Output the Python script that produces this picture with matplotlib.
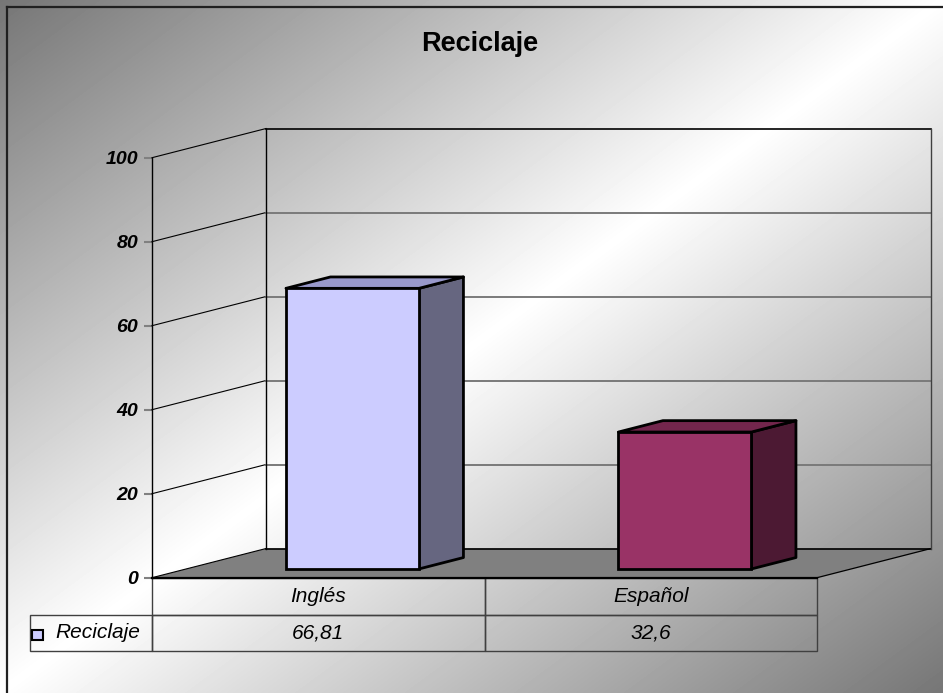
# coding=utf-8
"""Excel-style 3D bar chart 'Reciclaje' with a data table underneath."""

import matplotlib
matplotlib.use("Agg")
import matplotlib.pyplot as plt
import numpy as np
from matplotlib.patches import Polygon, Rectangle
from matplotlib.table import Table

plt.rcParams["font.family"] = ["Liberation Sans", "DejaVu Sans"]

# Data:
title = "Reciclaje"
series_name = "Reciclaje"
categories = ["Inglés", "Español"]
values = [66.81, 32.6]
value_labels = ["66,81", "32,6"]
y_ticks = [0, 20, 40, 60, 80, 100]

# Colours (front, side, top) per bar:
front_colours = ["#CCCCFF", "#993366"]
side_colours = ["#666680", "#4C1933"]
top_colours = ["#9999CC", "#73264D"]

# 3D look, in data units of the front plane:
DX, DY = 0.343, 6.95      # floor depth vector
F0, F1 = 0.30, 0.69       # bar depth span (fraction of floor depth)
BAR_W = 0.4

W, H = 943, 693
AX_W, AX_H = 665, 420     # front plane size in pixels
fig = plt.figure(figsize=(W / 100, H / 100), dpi=100)

# Background: diagonal mirrored grey gradient plus a frame on top/left.
bg = fig.add_axes([0, 0, 1, 1], zorder=-10)
xx, yy = np.meshgrid(np.linspace(0, 1, W), np.linspace(0, 1, H))
u = (xx + yy) / 2
grey = 118 + (255 - 118) * (1 - np.abs(2 * u - 1))
bg.imshow(grey, cmap="gray", vmin=0, vmax=255, extent=(0, W, H, 0), aspect="auto")
bg.plot([7, W], [6.5, 6.5], color="#202020", lw=1.6)
bg.plot([7, 7], [6.5, H], color="#202020", lw=1.6)
bg.set_xlim(0, W)
bg.set_ylim(H, 0)
bg.axis("off")

fig.text(480 / W, 1 - 44 / H, title, ha="center", va="center",
         fontsize=19.5, fontweight="bold")

# Front plane axes:
ax = fig.add_axes([152 / W, (H - 577.7) / H, AX_W / W, AX_H / H])
ax.set_xlim(-0.5, len(categories) - 0.5)
ax.set_ylim(0, 100)
ax.patch.set_visible(False)
for side in ("top", "right", "bottom"):
    ax.spines[side].set_visible(False)
ax.spines["left"].set_color("black")
ax.spines["left"].set_linewidth(1.0)
ax.set_xticks([])
ax.set_yticks(y_ticks)
ax.set_yticklabels([str(t) for t in y_ticks], fontsize=14,
                   fontweight="bold", fontstyle="italic")
ax.tick_params(axis="y", direction="out", length=6, width=1.5,
               color="#808080", pad=4)

x0, x1 = -0.5, len(categories) - 0.5
ymax = y_ticks[-1]

# Floor:
floor = Polygon([(x0, 0), (x1, 0), (x1 + DX, DY), (x0 + DX, DY)], closed=True,
                facecolor="#808080", edgecolor="none", clip_on=False, zorder=1)
ax.add_patch(floor)
ax.plot([x0 + DX, x1 + DX], [DY, DY], color="black", lw=1.2, clip_on=False, zorder=2)
ax.plot([x1, x1 + DX], [0, DY], color="black", lw=0.9, clip_on=False, zorder=2)
ax.plot([x0, x1], [0, 0], color="black", lw=1.6, clip_on=False, zorder=2)

# Walls and gridlines:
for t in y_ticks[1:]:
    ax.plot([x0, x0 + DX], [t, t + DY], color="black", lw=0.8, clip_on=False, zorder=2)
    grid_colour = "black" if t == ymax else "#7a7a7a"
    ax.plot([x0 + DX, x1 + DX], [t + DY, t + DY], color=grid_colour,
            lw=1.2 if t == ymax else 1.4, clip_on=False, zorder=2)
ax.plot([x0, x0 + DX], [0, DY], color="black", lw=0.8, clip_on=False, zorder=2)
ax.plot([x0 + DX, x0 + DX], [DY, ymax + DY], color="black", lw=1.0, clip_on=False, zorder=2)
ax.plot([x1 + DX, x1 + DX], [DY, ymax + DY], color="#404040", lw=1.0, clip_on=False, zorder=2)

# Bars:
positions = np.arange(len(categories))
front_x = positions + F0 * DX
base = F0 * DY
ddx, ddy = (F1 - F0) * DX, (F1 - F0) * DY
for xc, v, side_c, top_c in zip(front_x, values, side_colours, top_colours):
    xl, xr, top = xc - BAR_W / 2, xc + BAR_W / 2, base + v
    side_face = Polygon([(xr, base), (xr + ddx, base + ddy), (xr + ddx, top + ddy), (xr, top)],
                        closed=True, facecolor=side_c, edgecolor="black", lw=2,
                        joinstyle="round", clip_on=False, zorder=3)
    top_face = Polygon([(xl, top), (xl + ddx, top + ddy), (xr + ddx, top + ddy), (xr, top)],
                       closed=True, facecolor=top_c, edgecolor="black", lw=2,
                       joinstyle="round", clip_on=False, zorder=3)
    ax.add_patch(side_face)
    ax.add_patch(top_face)
ax.bar(front_x, values, width=BAR_W, bottom=base, color=front_colours,
       edgecolor="black", linewidth=2, zorder=4, clip_on=False)

# Data table below the plot (sizes in axes fractions; bbox covers the data columns):
label_w = 122 / AX_W
col_w = 1 / len(categories)
row_h = [37.3 / AX_H, 35.5 / AX_H]
table = Table(ax, bbox=[0, -sum(row_h), 1, sum(row_h)])
for j, cat in enumerate(categories):
    table.add_cell(0, j, width=col_w, height=row_h[0], text=cat, loc="center",
                   facecolor="none", edgecolor="#404040")
    table.add_cell(1, j, width=col_w, height=row_h[1], text=value_labels[j],
                   loc="center", facecolor="none", edgecolor="#404040")
table.add_cell(1, -1, width=label_w, height=row_h[1], text=series_name, loc="right",
               facecolor="none", edgecolor="#404040")
table.auto_set_font_size(False)
table.set_fontsize(15)
for cell in table.get_celld().values():
    cell.get_text().set_fontstyle("italic")
    cell.set_linewidth(1.0)
ax.add_table(table)

# Legend key inside the row label cell:
key = Rectangle(((32 - 152) / AX_W, -(640 - 577.7) / AX_H), 10.5 / AX_W, 10 / AX_H,
                transform=ax.transAxes, facecolor=front_colours[0],
                edgecolor="black", lw=1.5, clip_on=False, zorder=5)
ax.add_patch(key)

fig.savefig("out.png", dpi=100)
